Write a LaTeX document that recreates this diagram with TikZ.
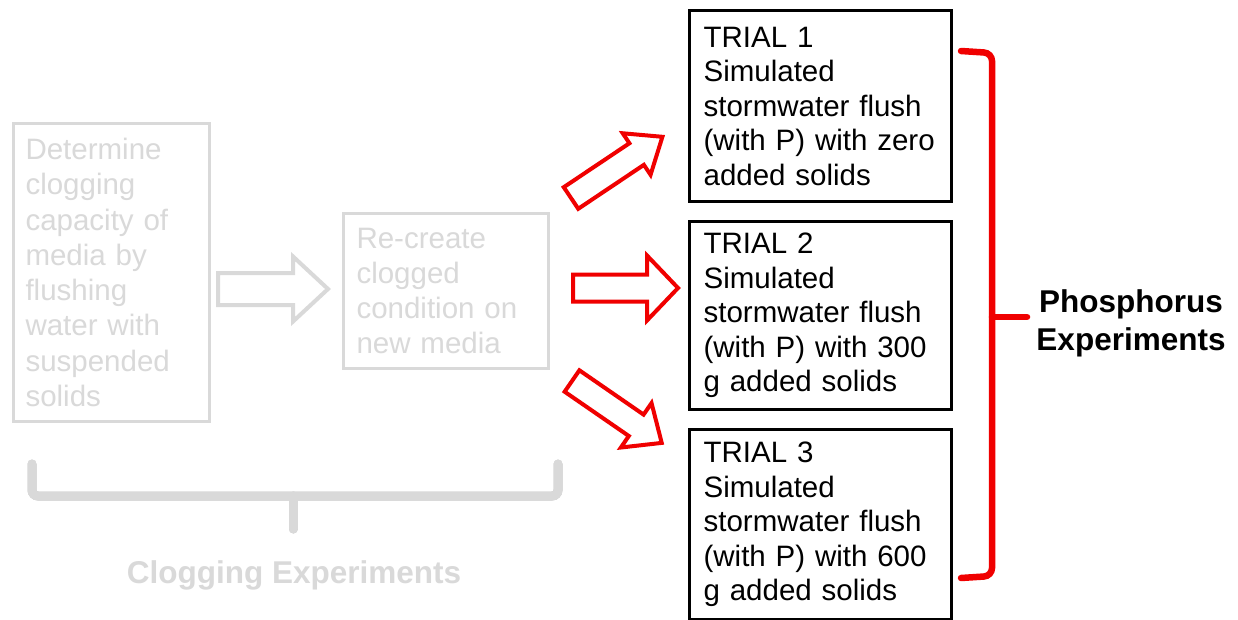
\documentclass[tikz,border=0pt]{standalone}
\usepackage{fontspec}
\setmainfont{Liberation Sans}
\definecolor{fade}{HTML}{D9D9D9}
\definecolor{fadeline}{HTML}{D9D9D9}
\definecolor{fadeshadow}{HTML}{CACACA}
\definecolor{myred}{HTML}{F00000}
\tikzset{
  pics/blockarrow/.style n args={4}{code={
    \draw[pic actions] (0,-#3) -- ({#1-#2},-#3) -- ({#1-#2},-#4) -- (#1,0)
      -- ({#1-#2},#4) -- ({#1-#2},#3) -- (0,#3) -- cycle;
  }},
  fadebox/.style={draw=fadeline, line width=3pt, text=fade, anchor=north west,
    align=left, inner ysep=0pt},
  trialbox/.style={draw=black, line width=3.2pt, anchor=north west, align=left,
    text width=234pt, inner xsep=14pt, inner ysep=0pt,
    font=\fontsize{29.5}{34.5}\selectfont},
  redarrow/.style={draw=myred, fill=white, line width=4pt, line join=miter},
  fadearrow/.style={draw=fadeline, fill=white, line width=4pt, line join=miter},
  redbrace/.style={myred, line width=6.5pt, line cap=round},
  fadebrace/.style={fadeline, line width=9pt, line cap=round},
}
\begin{document}
\begin{tikzpicture}[x=1pt,y=-1pt]
\useasboundingbox[fill=white] (0,0) rectangle (1238,620);

% faded clogging boxes
\node[fadebox, text width=172pt, inner xsep=12pt, minimum height=298pt,
  font=\fontsize{29.5}{35.3}\selectfont] (clog) at (12,122)
  {Determine\\clogging\\capacity of\\media by\\flushing\\water with\\suspended\\solids};
\node[fadebox, text width=179pt, inner xsep=13pt, minimum height=155pt,
  font=\fontsize{29.5}{35}\selectfont] (recreate) at (342,212)
  {Re-create\\clogged\\condition on\\new media};

% faded arrow
\pic[fadearrow] at (218,289) {blockarrow={110}{35}{16}{32.5}};

% trial boxes
\node[trialbox, minimum height=191pt] (t1) at (688,9)
  {TRIAL 1\\Simulated\\stormwater flush\\(with P) with zero\\added solids};
\node[trialbox, minimum height=188pt] (t2) at (688,220)
  {TRIAL 2\\Simulated\\stormwater flush\\(with P) with 300\\g added solids};
\node[trialbox, minimum height=190pt] (t3) at (688,428)
  {TRIAL 3\\Simulated\\stormwater flush\\(with P) with 600\\g added solids};

% red arrows
\pic[redarrow, rotate=33.8] at (571,198) {blockarrow={110}{31}{13}{25}};
\pic[redarrow] at (573,288) {blockarrow={105}{31}{13.5}{32.5}};
\pic[redarrow, rotate=-34.6] at (572,381) {blockarrow={109}{31}{13}{27}};

% red brace
\coordinate (rb1) at (961,51);
\coordinate (rb2) at (992,53);
\coordinate (rbm) at (992,317);
\coordinate (rb3) at (992,576);
\coordinate (rb4) at (961,578);
\draw[redbrace, rounded corners=8pt] (rb1) -- (rb2) -- (rbm) -- (rb3) -- (rb4);
\node[align=center, font=\bfseries\fontsize{31.5}{38}\selectfont] (phos) at (1131,323)
  {Phosphorus\\Experiments};
\coordinate (rbn) at (1027,317);
\draw[redbrace] (rbm) -- (rbn);

% faded brace
\coordinate (gb1) at (32,464);
\coordinate (gb2) at (32,496);
\coordinate (gbm) at (293,496);
\coordinate (gb3) at (558,496);
\coordinate (gb4) at (558,464);
\coordinate (gbn) at (293,529);
\begin{scope}[yshift=-2pt]
  \draw[fadebrace, fadeshadow, rounded corners=6pt] (gb1) -- (gb2) -- (gb3) -- (gb4);
  \draw[fadebrace, fadeshadow] (gbm) -- (gbn);
\end{scope}
\draw[fadebrace, rounded corners=6pt] (gb1) -- (gb2) -- (gb3) -- (gb4);
\draw[fadebrace] (gbm) -- (gbn);
\node[anchor=base, text=fade, font=\bfseries\fontsize{31.5}{36}\selectfont] (clogexp)
  at (294,583) {Clogging Experiments};
\end{tikzpicture}
\end{document}
